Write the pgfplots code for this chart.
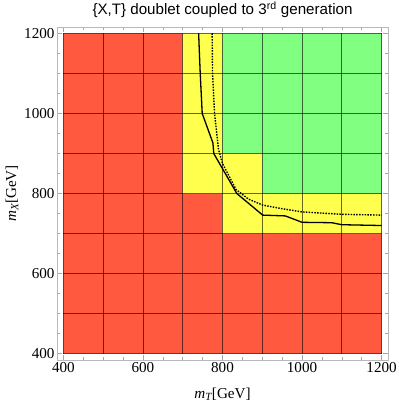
\documentclass[border=0pt]{standalone}
\usepackage{fontspec}
\setmainfont{Liberation Serif}
\newfontfamily\titlefont{Liberation Sans}
\usepackage{pgfplots}
\pgfplotsset{compat=1.18}
\definecolor{cred}{RGB}{255,90,64}
\definecolor{cyel}{RGB}{255,255,77}
\definecolor{cgrn}{RGB}{128,255,128}
\begin{document}
\begin{tikzpicture}
\begin{axis}[
  at={(0,0)}, anchor=south west,
  scale only axis, width=331bp, height=333bp,
  xmin=384, xmax=1216, ymin=384, ymax=1216,
  xtick={400,600,...,1200}, ytick={400,600,...,1200}, minor tick num=3,
  tick align=inside, major tick length=5bp, minor tick length=3bp,
  every tick/.style={gray!70, line width=0.5bp},
  axis line style={gray!55, line width=0.8bp},
  /pgf/number format/assume math mode=true,
  /pgf/number format/1000 sep={},
  ticklabel style={font=\fontsize{15.2}{17}\selectfont, text=black},
  xticklabel style={yshift=1bp},
  yticklabel style={xshift=1bp},
  xlabel={\textit{m}\raisebox{-0.3ex}{\fontsize{11}{12}\selectfont\textit{T}}[GeV]},
  ylabel={\textit{m}\raisebox{-0.3ex}{\fontsize{11}{12}\selectfont\textit{X}}[GeV]},
  label style={font=\fontsize{15.2}{17}\selectfont},
  xlabel style={at={(axis description cs:0.5,-0.102)}, anchor=center},
  ylabel style={at={(axis description cs:-0.136,0.5)}, anchor=center},
  title={\{X,T\} doublet coupled to 3\textsuperscript{rd} generation},
  title style={font=\titlefont\fontsize{15.2}{17}\selectfont, at={(axis description cs:0.5,1.033)}, anchor=center},
]
\addplot[fill=cred, draw=none] coordinates {(400,400) (1200,400) (1200,700) (800,700) (800,800) (700,800) (700,1200) (400,1200)} -- cycle;
\addplot[fill=cyel, draw=none] coordinates {(700,800) (700,1200) (800,1200) (800,900) (900,900) (900,800) (1200,800) (1200,700) (800,700) (800,800)} -- cycle;
\addplot[fill=cgrn, draw=none] coordinates {(800,900) (800,1200) (1200,1200) (1200,800) (900,800) (900,900)} -- cycle;
\pgfplotsinvokeforeach{400,500,600,700,800,900,1000,1100,1200}{
  \addplot[black, opacity=0.6, line width=0.8bp] coordinates {(#1,400) (#1,1200)};
  \addplot[black, opacity=0.6, line width=0.8bp] coordinates {(400,#1) (1200,#1)};
}
\addplot[black, line width=1.3bp] coordinates {(740,1200) (744,1100) (749,1000) (776,926) (778,900) (836,800) (901,746) (958,744) (1000,728) (1075,727) (1100,722) (1200,720)};
\addplot[black, line width=1.4bp, dash pattern=on 1.5bp off 1.3bp] coordinates {(774,1200) (775,1100) (780,1000) (790,910) (800,875) (834,810) (865,786) (901,771) (950,762) (1000,754) (1100,748) (1200,746)};
\end{axis}
\pgfresetboundingbox
\path[use as bounding box] (-57bp,-44bp) rectangle (342bp,360bp);
\end{tikzpicture}
\end{document}
